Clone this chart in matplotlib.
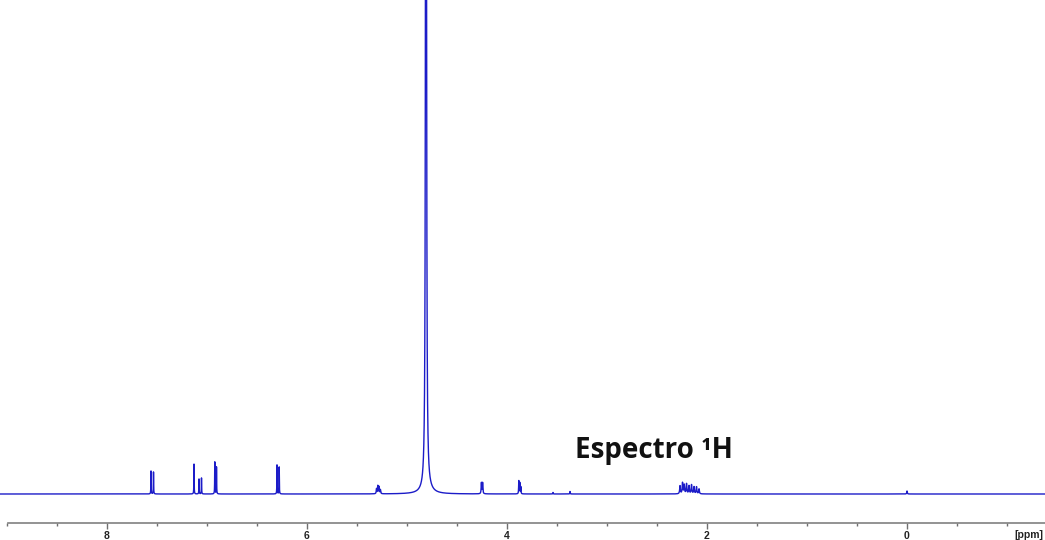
import numpy as np
import matplotlib
matplotlib.use('Agg')
import matplotlib.pyplot as plt
from matplotlib.ticker import MultipleLocator, FuncFormatter

# peak list: position (ppm), height (px above baseline), half width (ppm)
peak_ppm = [7.56, 7.535, 7.13, 7.08, 7.055, 6.922, 6.905, 6.30, 6.278,
            5.305, 5.292, 5.279, 5.266,
            4.81, 4.80,
            4.256, 4.244, 3.882, 3.872, 3.862, 3.54, 3.37,
            2.27, 2.245, 2.228, 2.205, 2.18, 2.155, 2.13, 2.105, 2.08,
            0.0]
peak_height = [23, 22, 30, 15, 16, 32, 27, 29, 27,
               5, 8, 7, 4,
               2500, 5,
               11, 11, 13, 11, 7, 1.5, 2.5,
               8, 11, 9, 10, 8, 9, 7, 7, 5,
               3]
peak_width = [0.0015, 0.0015, 0.0015, 0.0015, 0.0015, 0.0015, 0.0015, 0.0015, 0.0015,
              0.003, 0.003, 0.003, 0.003,
              0.003, 0.05,
              0.003, 0.003, 0.002, 0.002, 0.002, 0.002, 0.002,
              0.004, 0.004, 0.004, 0.004, 0.004, 0.004, 0.004, 0.004, 0.004,
              0.003]

x_left, x_right = 9.07, -1.38

ppm = np.linspace(x_left, x_right, 60000)
spec = np.zeros_like(ppm)
for p, h, w in zip(peak_ppm, peak_height, peak_width):
    spec += h / (1 + ((ppm - p) / w) ** 2)

fig = plt.figure(figsize=(10.45, 5.4), dpi=100)
ax = fig.add_axes([0, 0, 1, 1])
ax.plot(ppm, spec, color='#1c1cc8', lw=1.0)
ax.set_xlim(x_left, x_right)
ax.set_ylim(-46, 494)

# scale line under the spectrum
for s in ['top', 'left', 'right']:
    ax.spines[s].set_visible(False)
ax.spines['bottom'].set_position(('data', -28.7))
ax.spines['bottom'].set_bounds(8.99, x_right)
ax.spines['bottom'].set_color('#808080')
ax.spines['bottom'].set_linewidth(1.2)
ax.set_yticks([])
ax.xaxis.set_major_locator(MultipleLocator(2))
ax.xaxis.set_minor_locator(MultipleLocator(0.5))
ax.xaxis.set_major_formatter(FuncFormatter(lambda v, p: f'{v:g}'))
ax.tick_params(axis='x', which='major', direction='out', length=4.5, width=1, color='#707070',
               pad=1.5, labelsize=7.5)
ax.tick_params(axis='x', which='minor', direction='out', length=2.3, width=1, color='#707070')
for lab in ax.get_xticklabels():
    lab.set_fontweight('bold')
    lab.set_family('Liberation Sans')
    lab.set_color('#222222')

fig.text(1043 / 1045, 5 / 540, '[ppm]', fontsize=7.5, fontweight='bold',
         family='Liberation Sans', va='center', ha='right', color='#222222')

fig.text(575 / 1045, (540 - 458) / 540, 'Espectro ¹H', fontsize=20, fontweight='bold',
         family='Open Sans', va='baseline', ha='left', color='#111111')

fig.savefig('out.png', dpi=100)
